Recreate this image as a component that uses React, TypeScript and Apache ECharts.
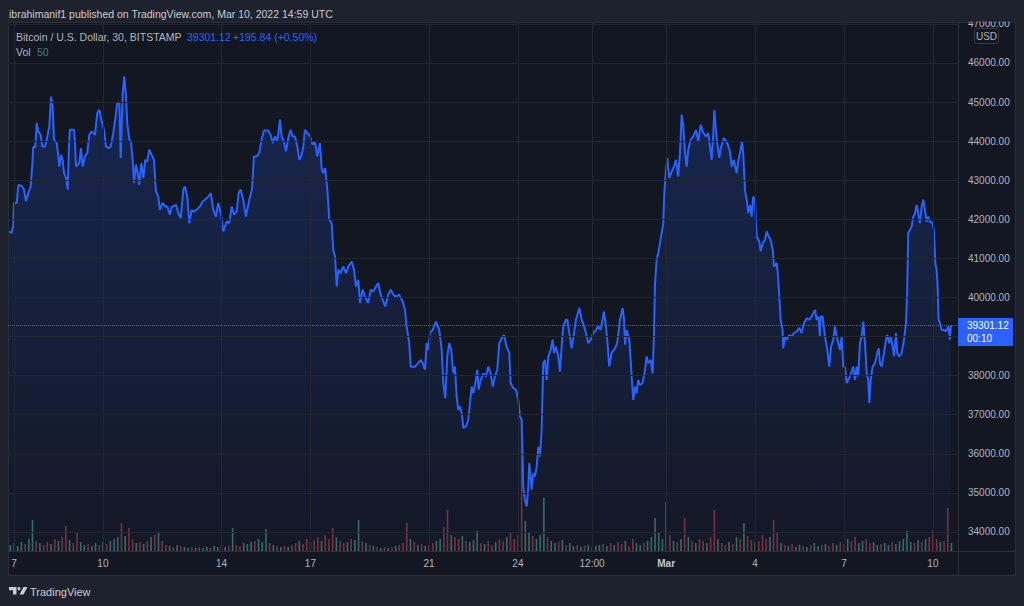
import React, { useEffect, useRef } from 'react';
import * as echarts from 'echarts';

// ---- axis ticks (hours since Feb 7 2022 00:00 UTC) ----
const timeTickHours = [0, 72, 168, 240, 336, 408, 468, 528, 600, 672, 744];
const timeTickLabels = ['7', '10', '14', '17', '21', '24', '12:00', 'Mar', '4', '7', '10'];
const priceGridTicks = [34000, 35000, 36000, 37000, 38000, 39000, 40000, 41000, 42000, 43000, 44000, 45000, 46000, 47000];
// 39000 is hidden behind the last-price box in the reference
const priceLabelTicks = [34000, 35000, 36000, 37000, 38000, 40000, 41000, 42000, 43000, 44000, 45000, 46000, 47000];

// ---- BTC/USD price (hours since Feb 7 00:00, USD) ----
const priceHours = [
  -3.8, -1.9, -0.6, 0, 2.2, 3.5, 6.2, 8.1, 9.7, 11.6, 13.5, 15.1, 15.6, 17.2, 18.4, 19.7, 21.6, 22.9, 25.1, 26.5,
  28.6, 30.0, 31.3, 32.4, 34.6, 35.9, 36.7, 38.1, 39.4, 40.5, 42.1, 43.5, 44.5, 45.3, 48.6, 49.4, 50.2, 52.9, 54.2, 55.6,
  57.5, 59.3, 61.0, 62.9, 65.6, 67.4, 69.1, 71.0, 72.9, 74.5, 76.4, 78.3, 80.4, 82.6, 83.6, 85.3, 86.4, 88.0, 89.3, 90.7,
  91.7, 93.4, 94.7, 96.1, 97.2, 98.8, 100.2, 101.4, 103.1, 104.7, 106.3, 107.9, 109.5, 111.5, 113.3, 115.0, 116.8, 118.2, 120.4, 122.3,
  124.1, 126.3, 127.7, 129.0, 131.2, 133.0, 135.0, 137.1, 138.4, 140.3, 141.9, 143.9, 145.2, 147.9, 150.6, 152.8, 154.6, 157.3, 159.3, 161.4,
  163.5, 165.4, 167.4, 169.5, 172.2, 174.3, 176.3, 178.1, 180.3, 181.9, 183.5, 185.6, 187.8, 190.5, 192.7, 194.3, 196.5, 198.6, 200.5, 202.4,
  205.9, 207.8, 209.5, 211.3, 213.2, 215.4, 216.7, 218.6, 220.2, 222.1, 224.0, 225.6, 227.5, 229.4, 231.0, 232.9, 234.2, 235.6, 237.5, 239.7,
  241.8, 243.7, 245.6, 247.7, 249.1, 250.4, 252.0, 253.7, 255.3, 257.2, 258.5, 259.9, 261.3, 262.6, 264.5, 266.6, 268.8, 270.7, 273.4, 275.3,
  276.9, 278.8, 280.1, 282.3, 284.2, 286.8, 288.8, 290.9, 293.1, 294.9, 296.9, 299.0, 300.6, 303.0, 305.0, 307.1, 309.3, 311.9, 314.7, 316.6,
  317.9, 320.0, 321.2, 324.7, 327.3, 329.3, 330.9, 332.8, 334.1, 335.4, 336.8, 339.0, 341.7, 344.3, 346.3, 347.6, 349.2, 350.8, 352.4, 354.0,
  355.7, 357.0, 358.4, 359.7, 361.1, 362.5, 363.8, 365.9, 367.8, 369.2, 370.6, 371.9, 374.0, 375.1, 376.2, 377.8, 380.0, 382.1, 384.0, 385.9,
  387.6, 389.4, 391.3, 392.9, 394.9, 396.7, 398.9, 401.0, 402.1, 404.2, 406.4, 408.3, 409.7, 411.0, 411.9, 412.3, 413.7, 415.1, 416.4, 417.2,
  418.3, 419.1, 420.4, 421.8, 423.2, 424.5, 425.9, 427.2, 428.0, 428.5, 429.9, 431.3, 432.6, 434.5, 436.1, 437.2, 438.8, 440.7, 442.0, 443.4,
  444.7, 446.9, 448.0, 449.6, 451.5, 453.4, 455.0, 457.7, 459.6, 460.9, 463.1, 465.0, 466.9, 469.0, 471.2, 473.1, 475.0, 477.7, 479.3, 480.3,
  482.0, 483.9, 486.6, 488.4, 490.6, 492.8, 493.9, 494.7, 496.0, 498.2, 500.1, 501.4, 502.8, 504.1, 505.4, 506.8, 509.0, 510.9, 512.2, 513.5,
  515.5, 517.1, 518.2, 519.0, 520.3, 521.6, 523.0, 524.4, 525.7, 526.5, 527.9, 528.9, 530.5, 532.5, 534.3, 536.0, 537.8, 539.2, 540.6, 541.9,
  543.3, 544.6, 545.9, 547.9, 550.0, 552.2, 554.0, 556.0, 558.1, 560.3, 562.1, 563.5, 564.9, 566.2, 567.0, 568.3, 569.4, 571.0, 572.2, 574.8,
  577.5, 579.7, 581.1, 582.9, 585.1, 586.4, 587.8, 589.4, 590.4, 591.8, 593.2, 594.5, 595.9, 597.2, 598.5, 599.9, 601.3, 603.4, 604.5, 606.2,
  608.0, 609.4, 611.0, 612.6, 614.3, 615.3, 617.5, 618.3, 619.6, 620.7, 622.3, 622.8, 624.2, 625.6, 627.7, 629.6, 631.5, 633.7, 635.8, 637.7,
  639.6, 641.8, 643.9, 645.8, 647.1, 648.5, 649.9, 651.2, 652.5, 653.1, 654.7, 656.6, 658.5, 660.1, 661.5, 663.3, 664.7, 666.1, 667.4, 668.7,
  670.1, 671.4, 672.8, 674.2, 676.8, 679.5, 680.9, 682.3, 683.5, 684.9, 686.3, 687.6, 689.0, 690.4, 691.6, 692.5, 693.6, 695.2, 697.1, 698.9,
  700.1, 701.1, 702.5, 704.4, 706.0, 707.0, 708.6, 709.8, 711.4, 712.5, 714.1, 715.1, 716.7, 718.7, 720.6, 722.2, 723.2, 724.0, 725.4, 726.8,
  728.1, 729.5, 730.8, 732.1, 733.5, 734.9, 736.2, 737.6, 738.9, 740.2, 741.6, 743.8, 744.8, 745.9, 747.0, 747.8, 748.6, 749.7, 751.1, 752.9,
  754.6, 756.4, 757.8, 758.6
];
const priceValues = [
  41690, 41650, 41860, 42420, 42420, 42880, 42860, 42760, 42460, 42670, 42840, 43520, 43850, 43850, 44460, 44250, 44160, 43860, 43860, 44040,
  44380, 45140, 44890, 44040, 43950, 43610, 43350, 43650, 43520, 43180, 43060, 42760, 43860, 44290, 44290, 43950, 43350, 43440, 43820, 43350,
  43610, 43700, 44160, 44250, 44160, 44720, 44800, 44500, 44290, 43860, 43820, 43860, 44210, 44720, 44980, 44980, 43570, 45230, 45660, 45140,
  44460, 44040, 43990, 43520, 42930, 43400, 43180, 42880, 43440, 43060, 43520, 43480, 43780, 43650, 43520, 42710, 42580, 42240, 42420, 42330,
  42330, 42120, 42330, 42330, 42370, 42160, 42030, 42760, 42840, 42580, 41900, 42240, 42200, 42240, 42330, 42460, 42500, 42580, 42670, 42240,
  42070, 42420, 42160, 41690, 41940, 41900, 42330, 42120, 42200, 42670, 42760, 42500, 42070, 42500, 42760, 43610, 43610, 43700, 44040, 44270,
  44270, 44160, 43950, 44120, 43990, 44550, 44120, 43990, 43740, 44080, 44290, 44120, 44120, 43860, 43520, 43650, 43860, 44290, 44210, 44120,
  43910, 43990, 43610, 43950, 43310, 43180, 43310, 42760, 41990, 41900, 41220, 41050, 40280, 40710, 40620, 40790, 40620, 40790, 40920, 40710,
  40280, 40450, 39860, 40200, 40020, 39860, 40200, 40150, 40280, 40370, 40070, 39900, 39770, 40070, 40200, 40070, 40020, 40070, 39900, 39680,
  39260, 38830, 38230, 38230, 38320, 38400, 38320, 38150, 38830, 38660, 39090, 39170, 39380, 39170, 38660, 37810, 37420, 38490, 38830, 38660,
  38060, 38230, 37460, 37120, 37210, 37040, 36660, 36700, 36870, 37300, 37720, 37550, 37890, 38150, 37640, 37890, 38060, 37980, 38230, 38060,
  37720, 37980, 38150, 38830, 38960, 39040, 38740, 38580, 37810, 37680, 37640, 37380, 36950, 36870, 35840, 35160, 34820, 34650, 35160, 35760,
  35420, 35080, 35500, 35420, 35670, 36180, 35930, 36610, 37640, 38320, 38400, 37890, 38490, 38660, 38920, 38580, 38740, 38490, 38100, 38740,
  39260, 39430, 39430, 39090, 38700, 39090, 39430, 39730, 39430, 39340, 39090, 38830, 38920, 39090, 39170, 39260, 39170, 39640, 39260, 38920,
  38230, 38580, 38700, 38830, 39430, 39730, 39430, 38790, 39170, 38920, 37980, 37380, 37720, 37550, 37890, 37760, 37810, 38150, 38490, 38320,
  38400, 38060, 39090, 40370, 40960, 41140, 41390, 41650, 41900, 42670, 43270, 43570, 43060, 43220, 43350, 43520, 43100, 43700, 44680, 44380,
  43700, 43350, 43780, 44040, 44120, 44290, 43990, 44420, 44210, 44120, 44210, 43860, 43520, 44210, 44800, 44290, 43950, 43570, 43820, 44080,
  43950, 43740, 43350, 43520, 43180, 43480, 43700, 43990, 43700, 42760, 42500, 42160, 42370, 42070, 42580, 42500, 41560, 41430, 41180, 41390,
  41480, 41690, 41560, 41480, 41220, 40790, 40880, 40660, 40020, 39430, 39170, 38700, 39000, 38920, 39040, 39000, 39090, 39130, 39220, 39090,
  39340, 39470, 39430, 39510, 39600, 39680, 39430, 39510, 39000, 39510, 39510, 39000, 38660, 38230, 38740, 38920, 39260, 39000, 38830, 38660,
  39000, 38230, 38230, 37810, 37980, 38230, 37890, 38230, 37980, 38830, 39000, 39380, 38830, 38060, 37890, 37300, 37890, 38230, 38320, 38580,
  38700, 38320, 38230, 38580, 38920, 39040, 38830, 39000, 38740, 38490, 39090, 38580, 38490, 38580, 38920, 39340, 40200, 41650, 41730, 41820,
  42070, 42160, 42370, 42160, 41900, 42330, 42500, 42240, 41940, 42070, 41940, 41900, 41730, 40880, 40710, 40280, 39430, 39340, 39170, 39170,
  39130, 39260, 38920, 39301.12
];

// ---- volume, one bar per 3 hours from Feb 6 21:00 ----
const volumeStartHour = -3;
const volumeStepHours = 3;
const volumeValues = [
  6, 8, 5, 9, 7, 12, 31, 10, 8, 6,
  9, 7, 12, 10, 14, 25, 11, 8, 19, 9,
  6, 7, 5, 8, 6, 9, 7, 10, 12, 14,
  28, 15, 23, 12, 8, 9, 7, 10, 14, 16,
  18, 10, 6, 5, 4, 6, 5, 4, 3, 4,
  3, 4, 3, 4, 3, 5, 4, 6, 4, 5,
  23, 6, 5, 8, 7, 9, 10, 12, 9, 22,
  8, 6, 5, 4, 5, 4, 6, 8, 10, 7,
  12, 9, 11, 14, 10, 16, 12, 23, 14, 10,
  8, 9, 12, 11, 31, 10, 8, 6, 5, 4,
  3, 4, 3, 4, 5, 6, 8, 28, 12, 9,
  6, 7, 5, 6, 8, 10, 12, 24, 41, 16,
  14, 12, 15, 10, 9, 11, 20, 8, 7, 10,
  6, 9, 12, 10, 14, 18, 12, 16, 132, 30,
  18, 15, 12, 16, 53, 14, 10, 8, 9, 11,
  6, 8, 5, 6, 4, 5, 6, 4, 5, 6,
  7, 5, 8, 6, 9, 7, 10, 5, 12, 8,
  6, 8, 10, 14, 33, 18, 12, 49, 16, 10,
  9, 12, 33, 14, 10, 8, 12, 10, 8, 14,
  41, 12, 8, 6, 9, 7, 14, 12, 28, 15,
  11, 9, 10, 16, 12, 14, 31, 18, 8, 6,
  5, 7, 4, 6, 5, 4, 6, 8, 5, 6,
  7, 5, 8, 6, 9, 7, 12, 10, 14, 8,
  10, 12, 8, 9, 6, 7, 8, 6, 9, 7,
  10, 12, 20, 9, 8, 11, 9, 12, 14, 21,
  12, 9, 10, 43, 8
];
const volumeUp = [
  1, 0, 1, 1, 0, 1, 1, 0, 1, 0,
  0, 1, 0, 1, 0, 0, 1, 0, 0, 1,
  1, 0, 1, 1, 0, 1, 0, 1, 1, 1,
  0, 1, 0, 0, 1, 0, 1, 0, 1, 0,
  1, 0, 0, 1, 0, 1, 0, 1, 1, 0,
  1, 0, 1, 1, 0, 1, 1, 0, 1, 0,
  1, 0, 0, 1, 1, 1, 0, 1, 1, 1,
  0, 1, 0, 1, 0, 1, 0, 0, 1, 0,
  0, 1, 0, 0, 1, 0, 0, 0, 1, 0,
  0, 1, 0, 1, 1, 0, 1, 0, 1, 0,
  1, 0, 1, 0, 1, 0, 0, 0, 1, 0,
  1, 0, 1, 0, 0, 1, 1, 0, 0, 1,
  0, 0, 1, 0, 1, 1, 1, 0, 1, 0,
  0, 1, 0, 0, 1, 0, 0, 0, 0, 1,
  1, 0, 1, 1, 1, 0, 1, 1, 0, 1,
  0, 1, 1, 0, 1, 0, 1, 0, 1, 1,
  0, 1, 0, 1, 0, 0, 1, 0, 0, 1,
  1, 0, 1, 1, 1, 1, 1, 1, 0, 1,
  0, 1, 0, 1, 0, 1, 0, 0, 1, 0,
  0, 1, 0, 0, 1, 0, 1, 0, 1, 0,
  0, 1, 0, 0, 0, 1, 0, 0, 1, 0,
  1, 0, 1, 1, 0, 1, 0, 1, 1, 0,
  1, 0, 0, 1, 0, 0, 1, 0, 0, 1,
  1, 0, 0, 1, 1, 0, 1, 1, 0, 1,
  1, 1, 1, 1, 0, 1, 0, 1, 0, 0,
  0, 1, 0, 0, 1
];

const lastPrice = 39301.12;
const FONT = '"Liberation Sans", Arial, sans-serif';
const AXIS_TEXT = '#b2b5be';
const LINE_BLUE = '#2962ff';

export default function App() {
  const ref = useRef<HTMLDivElement>(null);

  useEffect(() => {
    if (!ref.current) return;
    const chart = echarts.init(ref.current, null, { renderer: 'svg' });

    const pricePoints = priceHours.map((h, i) => [h, priceValues[i]]);
    const volumeBars = volumeValues.map((v, i) => ({
      value: [volumeStartHour + volumeStepHours * i, v],
      itemStyle: { color: volumeUp[i] ? 'rgba(62,122,114,0.85)' : 'rgba(190,66,70,0.6)' },
    }));

    const txt = (text: string, x: number, y: number, fill: string, size = 10, extra: any = {}) => ({
      type: 'text',
      x,
      y,
      z: 120,
      silent: true,
      style: { text, fill, font: `${extra.weight || 'normal'} ${size}px ${FONT}`, align: extra.align || 'left', verticalAlign: 'middle' },
    });

    chart.setOption({
      animation: false,
      backgroundColor: 'transparent',
      grid: { left: 8, right: 66, top: 22, bottom: 55 },
      xAxis: {
        type: 'value',
        min: -4.85,
        max: 764.3,
        axisLine: { show: false },
        axisTick: { show: false },
        splitLine: { show: false },
        axisLabel: {
          customValues: timeTickHours,
          margin: 7,
          color: AXIS_TEXT,
          fontSize: 10,
          fontFamily: FONT,
          formatter: (v: number) => {
            const idx = timeTickHours.indexOf(v);
            const lab = idx >= 0 ? timeTickLabels[idx] : '';
            return lab === 'Mar' ? '{b|Mar}' : lab;
          },
          rich: { b: { fontWeight: 'bold', color: '#c4c7ce', fontSize: 10, fontFamily: FONT } },
        },
      },
      yAxis: [
        {
          type: 'value',
          position: 'right',
          min: 33512,
          max: 47049,
          axisLine: { show: false },
          axisTick: { show: false },
          splitLine: { show: false },
          axisLabel: {
            customValues: priceLabelTicks,
            margin: 10,
            color: AXIS_TEXT,
            fontSize: 10,
            fontFamily: FONT,
            formatter: (v: number) => v.toFixed(2),
          },
        },
        { type: 'value', min: 0, max: 529, show: false },
      ],
      series: [
        {
          type: 'line',
          name: 'grid',
          data: [],
          silent: true,
          z: 1,
          markLine: {
            silent: true,
            symbol: ['none', 'none'],
            label: { show: false },
            lineStyle: { color: '#222633', type: 'solid', width: 1 },
            emphasis: { disabled: true },
            data: [
              ...timeTickHours.map((h) => ({ xAxis: h })),
              ...priceGridTicks.map((p) => ({ yAxis: p })),
            ],
          },
        },
        {
          type: 'bar',
          name: 'Vol',
          xAxisIndex: 0,
          yAxisIndex: 1,
          barWidth: 1.6,
          silent: true,
          z: 2,
          data: volumeBars,
        },
        {
          type: 'line',
          name: 'BTCUSD',
          data: pricePoints,
          symbol: 'none',
          silent: true,
          z: 3,
          lineStyle: { color: LINE_BLUE, width: 2 },
          areaStyle: {
            origin: 'start',
            color: new echarts.graphic.LinearGradient(0, 0, 0, 1, [
              { offset: 0, color: 'rgba(41,98,255,0.30)' },
              { offset: 1, color: 'rgba(41,98,255,0.03)' },
            ]),
          },
          markLine: {
            silent: true,
            symbol: ['none', 'none'],
            label: { show: false },
            lineStyle: { color: LINE_BLUE, type: 'dotted', width: 1 },
            emphasis: { disabled: true },
            data: [{ yAxis: lastPrice }],
          },
        },
      ],
      graphic: [
        // cover above chart frame (clips the 47000 label)
        { type: 'rect', z: 100, silent: true, shape: { x: 940, y: 0, width: 84, height: 21.5 }, style: { fill: '#1e222d' } },
        // separators
        { type: 'line', z: 100, silent: true, shape: { x1: 958.5, y1: 22, x2: 958.5, y2: 575 }, style: { stroke: '#2a2e39', lineWidth: 1 } },
        { type: 'line', z: 100, silent: true, shape: { x1: 8, y1: 551.5, x2: 1015, y2: 551.5 }, style: { stroke: '#2a2e39', lineWidth: 1 } },
        // header
        txt('ibrahimanif1 published on TradingView.com, Mar 10, 2022 14:59 UTC', 9, 13.5, '#c9ccd3', 10.5),
        // legend
        txt('Bitcoin / U.S. Dollar, 30, BITSTAMP', 16, 37, AXIS_TEXT, 10.5),
        txt('39301.12', 187, 37, LINE_BLUE, 10.5),
        txt('+195.84 (+0.50%)', 233, 37, LINE_BLUE, 10.5),
        txt('Vol', 16, 52, AXIS_TEXT, 10.5),
        txt('50', 37, 52, '#4a7a7c', 10.5),
        // USD box
        { type: 'rect', z: 110, silent: true, shape: { x: 974.5, y: 28.5, width: 24, height: 15, r: 2 }, style: { fill: '#131722', stroke: '#363a45', lineWidth: 1 } },
        txt('USD', 986.5, 36.5, AXIS_TEXT, 10, { align: 'center' }),
        // last price box
        { type: 'rect', z: 110, silent: true, shape: { x: 958, y: 318, width: 55, height: 28, r: 1 }, style: { fill: LINE_BLUE } },
        txt('39301.12', 967, 325.5, '#ffffff', 10),
        txt('00:10', 967, 338.7, '#ffffff', 10),
        // footer logo
        { type: 'polygon', z: 110, silent: true, shape: { points: [[9, 587], [16.5, 587], [16.5, 594.5], [13, 594.5], [13, 590.2], [9, 590.2]] }, style: { fill: '#c9ccd3' } },
        { type: 'circle', z: 110, silent: true, shape: { cx: 19, cy: 588.6, r: 1.6 }, style: { fill: '#c9ccd3' } },
        { type: 'polygon', z: 110, silent: true, shape: { points: [[23.5, 587], [27.5, 587], [23.5, 594.5], [19.5, 594.5]] }, style: { fill: '#c9ccd3' } },
        txt('TradingView', 30, 591.5, '#c9ccd3', 11),
      ],
    });

    return () => chart.dispose();
  }, []);

  return (
    <div style={{ position: 'fixed', left: 0, top: 0, width: 1024, height: 606, background: '#1e222d', overflow: 'hidden' }}>
      <div
        style={{
          position: 'absolute',
          left: 8,
          top: 22,
          width: 1008,
          height: 554,
          background: '#131722',
          border: '1px solid #2a2e39',
          boxSizing: 'border-box',
        }}
      />
      <div ref={ref} style={{ position: 'absolute', left: 0, top: 0, width: 1024, height: 606 }} />
    </div>
  );
}
